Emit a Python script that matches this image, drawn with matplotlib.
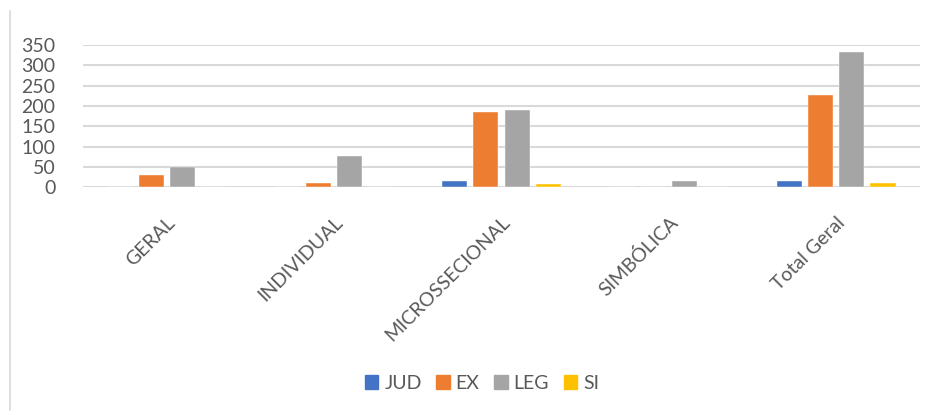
import matplotlib.pyplot as plt
import numpy as np
from matplotlib.lines import Line2D

# Categories and series
categories = ["GERAL", "INDIVIDUAL", "MICROSSECIONAL", "SIMBÓLICA", "Total Geral"]
jud = [0, 0, 15, 0, 15]
ex = [30, 10, 185, 0, 227]
leg = [50, 78, 190, 15, 333]
si = [0, 0, 7, 0, 10]

series = [("JUD", jud, "#4472C4"), ("EX", ex, "#ED7D31"),
          ("LEG", leg, "#A5A5A5"), ("SI", si, "#FFC000")]

plt.rcParams['font.family'] = ['Lato', 'DejaVu Sans']

fig = plt.figure(figsize=(9.34, 4.15), dpi=100)
ax = fig.add_axes([0.0889, 0.5487, 0.8961, 0.3429])

x = np.arange(len(categories))
step = 0.186
width = 0.15
for i, (name, vals, color) in enumerate(series):
    ax.bar(x + (i - 1.5) * step, vals, width, color=color, label=name,
           zorder=3, edgecolor='white', linewidth=0.3)

ax.set_xlim(-0.5, len(categories) - 0.5)
ax.set_ylim(0, 350)
ax.set_yticks(range(0, 351, 50))
ax.yaxis.grid(True, color='#D9D9D9', linewidth=1.5, zorder=0)
for s in ax.spines.values():
    s.set_visible(False)
ax.tick_params(axis='both', length=0, colors='#595959', labelsize=14)
ax.tick_params(axis='y', pad=20)

ax.set_xticks(x)
ax.set_xticklabels(categories, rotation=45, ha='right', rotation_mode='anchor',
                   color='#595959', fontsize=14)
ax.tick_params(axis='x', pad=19)

# Legend at the bottom
handles = [plt.Rectangle((0, 0), 1, 1, color=c) for _, _, c in series]
fig.legend(handles, [n for n, _, _ in series], loc='center',
           bbox_to_anchor=(0.516, 0.077), ncol=4, frameon=False,
           fontsize=14, handlelength=0.7, handleheight=0.7,
           handletextpad=0.3, columnspacing=0.75, labelcolor='#595959')

# Chart border line on the left
fig.add_artist(Line2D([0.0107, 0.0107], [0.012, 0.973], color='#D9D9D9',
                      linewidth=1.2, transform=fig.transFigure))

fig.savefig("out.png", dpi=100, facecolor='white')
